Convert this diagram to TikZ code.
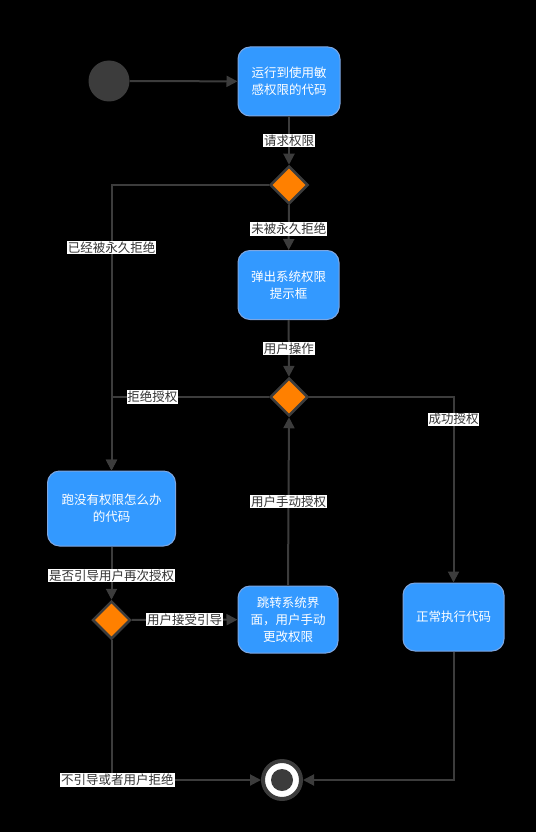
\documentclass[tikz,border=0pt]{standalone}
\usepackage{fontspec}
\newfontfamily\cjk{Noto Sans CJK SC}
\usetikzlibrary{arrows.meta,shapes.geometric}
\definecolor{boxblue}{HTML}{3399FF}
\definecolor{boxborder}{HTML}{7EA6E0}
\definecolor{dorange}{HTML}{FF8000}
\definecolor{linegray}{HTML}{3C3C3C}
\definecolor{txtdark}{HTML}{333333}
\begin{document}
\begin{tikzpicture}[x=1pt,y=-1pt,
  actbox/.style={draw=boxborder,line width=1pt,fill=boxblue,rounded corners=12pt,
    text=white,align=center,inner sep=0pt,font=\cjk\fontsize{12.5}{17}\selectfont},
  dec/.style={diamond,draw=linegray,line width=2.5pt,fill=dorange,inner sep=0pt,
    minimum width=38pt,minimum height=38pt},
  conn/.style={draw=linegray,line width=2pt},
  arr/.style={conn,-{Triangle[length=11pt,width=11pt]}},
  lbl/.style={fill=white,text=txtdark,inner sep=0.8pt,font=\cjk\fontsize{12.5}{14}\selectfont}
]
\useasboundingbox[fill=black] (0,0) rectangle (536,832);

% nodes
\node[circle,fill=linegray,minimum size=41pt,inner sep=0pt] (start) at (109,81) {};
\node[actbox,minimum width=102pt,minimum height=69pt] (b1) at (289,81.5) {运行到使用敏\\感权限的代码};
\node[dec] (d1) at (289,185) {};
\node[actbox,minimum width=101pt,minimum height=69pt] (b2) at (288.5,285) {弹出系统权限\\提示框};
\node[dec] (d2) at (289,397) {};
\node[actbox,minimum width=128pt,minimum height=75pt] (b3) at (111.5,508.5) {跑没有权限怎么办\\的代码};
\node[dec] (d3) at (111.5,620) {};
\node[actbox,minimum width=100pt,minimum height=67pt] (b5) at (288,619.5) {跳转系统界\\面，用户手动\\更改权限};
\node[actbox,minimum width=101pt,minimum height=68pt] (b4) at (453.5,617) {正常执行代码};
\node[circle,draw=linegray,line width=4pt,fill=white,minimum size=38pt,inner sep=0pt] (end) at (282,780) {};
\node[circle,fill=linegray,minimum size=22pt,inner sep=0pt] (endin) at (282,780) {};

\coordinate (c1) at (111.5,185);
\coordinate (c2) at (111.5,397);
\coordinate (c3) at (453.5,397);
\coordinate (c4) at (453.5,780);
\coordinate (c5) at (111.5,780);

% connectors
\draw[arr] (start) -- (b1);
\draw[arr] (b1) -- node[lbl,pos=0.5]{请求权限} (d1);
\draw[arr] (d1) -- node[lbl,pos=0.53]{未被永久拒绝} (b2);
\draw[arr] (d1.west) -- (c1) -- node[lbl,pos=0.22]{已经被永久拒绝} (b3.north);
\draw[arr] (b2) -- node[lbl,pos=0.5]{用户操作} (d2);
\draw[arr] (d2.west) -- node[lbl,pos=0.74]{拒绝授权} (c2) -- (b3.north);
\draw[arr] (d2.east) -- (c3) -- node[lbl,pos=0.12]{成功授权} (b4.north);
\draw[arr] (b3) -- node[lbl,pos=0.55]{是否引导用户再次授权} (d3);
\draw[arr] (d3) -- node[lbl,pos=0.5]{用户接受引导} (b5);
\draw[arr] (b5.north) -- node[lbl,pos=0.5]{用户手动授权} (d2.south);
\draw[arr] (d3.south) -- (c5) -- node[lbl,pos=0.04]{不引导或者用户拒绝} (end.west);
\draw[arr] (b4.south) -- (c4) -- (end.east);
\end{tikzpicture}
\end{document}
